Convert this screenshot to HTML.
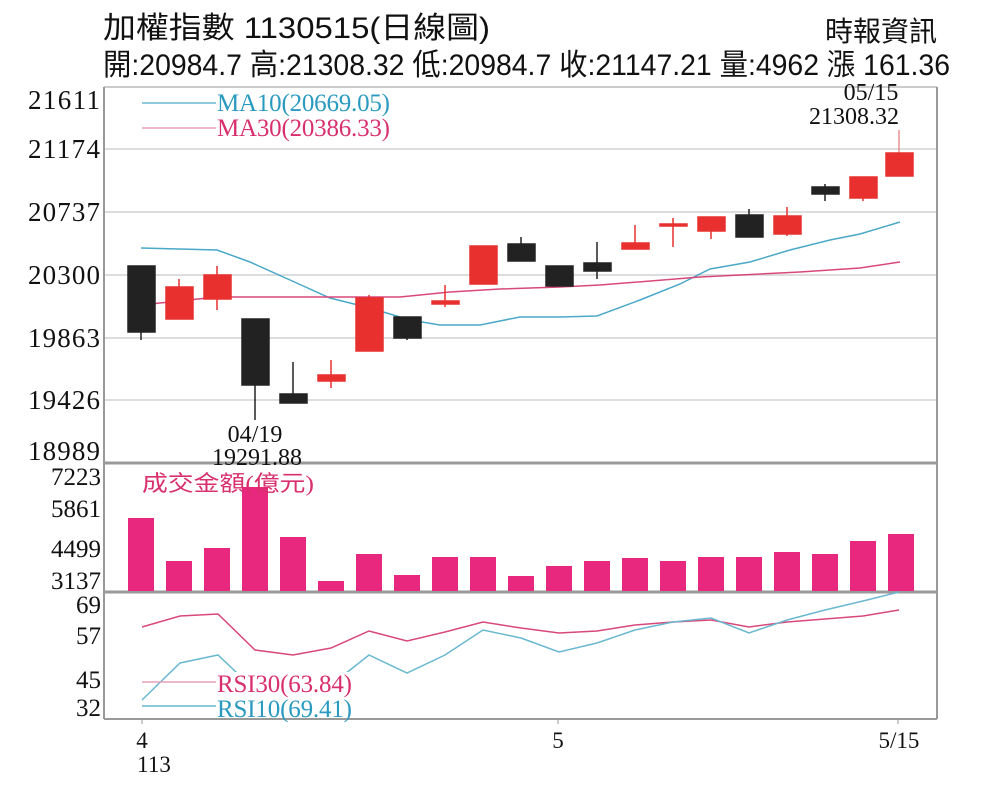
<!DOCTYPE html>
<html><head><meta charset="utf-8"><style>body{margin:0;background:#fff}svg{display:block}</style></head><body>
<svg width="1000" height="801" viewBox="0 0 1000 801" xmlns="http://www.w3.org/2000/svg" font-family="'Liberation Serif','Noto Serif CJK TC',serif">
<rect width="1000" height="801" fill="#fff"/>
<text x="103" y="38" font-size="30" textLength="387" lengthAdjust="spacingAndGlyphs" fill="#111" font-family="'Liberation Sans','Noto Sans CJK TC',sans-serif">加權指數 1130515(日線圖)</text>
<text x="937" y="41" font-size="28" text-anchor="end" fill="#111" font-family="'Liberation Sans','Noto Sans CJK TC',sans-serif">時報資訊</text>
<text x="103" y="75" font-size="30" textLength="847" lengthAdjust="spacingAndGlyphs" fill="#111" font-family="'Liberation Sans','Noto Sans CJK TC',sans-serif">開:20984.7 高:21308.32 低:20984.7 收:21147.21 量:4962 漲 161.36</text>
<g stroke="#ddd" stroke-width="2">
<line x1="104" y1="149" x2="937" y2="149"/><line x1="104" y1="212" x2="937" y2="212"/><line x1="104" y1="275" x2="937" y2="275"/><line x1="104" y1="338" x2="937" y2="338"/><line x1="104" y1="400" x2="937" y2="400"/>
</g>
<g stroke="#999" stroke-width="2" fill="none">
<line x1="104" y1="87" x2="937" y2="87" stroke="#ccc"/>
<line x1="104" y1="463" x2="937" y2="463" stroke-width="3"/>
<line x1="104" y1="592" x2="937" y2="592" stroke-width="3"/>
<line x1="104" y1="719" x2="937" y2="719" stroke-width="2"/>
<line x1="104" y1="87" x2="104" y2="719"/>
<line x1="937" y1="87" x2="937" y2="719"/>
</g>
<g stroke="#999" stroke-width="1">
<line x1="142" y1="719" x2="142" y2="724"/><line x1="558" y1="719" x2="558" y2="724"/><line x1="898" y1="719" x2="898" y2="724"/>
</g>
<g font-size="27" fill="#111" lengthAdjust="spacingAndGlyphs">
<text x="28" y="109" textLength="72">21611</text><text x="28" y="158" textLength="72">21174</text><text x="28" y="221" textLength="72">20737</text><text x="28" y="284" textLength="72">20300</text><text x="28" y="347" textLength="72">19863</text><text x="28" y="409" textLength="72">19426</text><text x="28" y="460" textLength="72">18989</text>
</g>
<g font-size="25" fill="#111" text-anchor="end">
<text x="101" y="485">7223</text><text x="101" y="517">5861</text><text x="101" y="557">4499</text><text x="101" y="589">3137</text>
<text x="101" y="613">69</text><text x="101" y="644">57</text><text x="101" y="688">45</text><text x="101" y="716">32</text>
</g>
<g font-size="23" fill="#111" text-anchor="middle">
<text x="142" y="748">4</text><text x="154" y="772">113</text><text x="558" y="748">5</text><text x="899" y="748">5/15</text>
</g>
<polyline fill="none" stroke="#4aa8c8" stroke-width="1.5" points="141,248 217,250 250,262 290,280 330,298 370,308 410,320 440,325 480,325 520,317 560,317 597,316 640,300 680,284 710,269 750,262 790,250 830,240 860,234 900,222"/>
<polyline fill="none" stroke="#d8487a" stroke-width="1.5" points="141,305 217,297 300,297 400,297 450,292 500,289 560,287 600,285 700,277 800,272 860,268 900,262"/>
<g stroke-width="1.5">
<g stroke="#222" fill="#222">
<line x1="141" y1="266" x2="141" y2="340"/><rect x="128" y="266" width="27" height="66"/>
<line x1="255" y1="319" x2="255" y2="420"/><rect x="242" y="319" width="27" height="66"/>
<line x1="293" y1="362" x2="293" y2="403"/><rect x="280" y="394" width="27" height="9"/>
<line x1="407" y1="317" x2="407" y2="340"/><rect x="394" y="317" width="27" height="21"/>
<line x1="521" y1="237" x2="521" y2="261"/><rect x="508" y="244" width="27" height="17"/>
<line x1="559" y1="266" x2="559" y2="286"/><rect x="546" y="266" width="27" height="20"/>
<line x1="597" y1="242" x2="597" y2="279"/><rect x="584" y="263" width="27" height="8"/>
<line x1="749" y1="209" x2="749" y2="237"/><rect x="736" y="215" width="27" height="22"/>
<line x1="825" y1="184" x2="825" y2="201"/><rect x="812" y="187" width="27" height="7"/>
</g>
<g stroke="#e8312f" fill="#e8312f">
<line x1="179" y1="279" x2="179" y2="319"/><rect x="166" y="287" width="27" height="32"/>
<line x1="217" y1="266" x2="217" y2="310"/><rect x="204" y="275" width="27" height="24"/>
<line x1="331" y1="360" x2="331" y2="388"/><rect x="318" y="375" width="27" height="6"/>
<line x1="369" y1="295" x2="369" y2="351"/><rect x="356" y="298" width="27" height="53"/>
<line x1="445" y1="285" x2="445" y2="307"/><rect x="432" y="301" width="27" height="3"/>
<rect x="470" y="246" width="27" height="38"/>
<line x1="635" y1="225" x2="635" y2="249"/><rect x="622" y="243" width="27" height="6"/>
<line x1="673" y1="218" x2="673" y2="247"/><rect x="660" y="224" width="27" height="2"/>
<line x1="711" y1="217" x2="711" y2="239"/><rect x="698" y="217" width="27" height="14"/>
<line x1="787" y1="207" x2="787" y2="236"/><rect x="774" y="216" width="27" height="18"/>
<line x1="863" y1="177" x2="863" y2="201"/><rect x="850" y="177" width="27" height="21"/>
<line x1="899" y1="130" x2="899" y2="153" stroke="#e89090"/><rect x="886" y="153" width="27" height="23"/>
</g>
</g>
<g fill="#e8287f">
<rect x="128" y="518" width="26" height="73"/><rect x="166" y="561" width="26" height="30"/><rect x="204" y="548" width="26" height="43"/><rect x="242" y="487" width="26" height="104"/><rect x="280" y="537" width="26" height="54"/><rect x="318" y="581" width="26" height="10"/><rect x="356" y="554" width="26" height="37"/><rect x="394" y="575" width="26" height="16"/><rect x="432" y="557" width="26" height="34"/><rect x="470" y="557" width="26" height="34"/><rect x="508" y="576" width="26" height="15"/><rect x="546" y="566" width="26" height="25"/><rect x="584" y="561" width="26" height="30"/><rect x="622" y="558" width="26" height="33"/><rect x="660" y="561" width="26" height="30"/><rect x="698" y="557" width="26" height="34"/><rect x="736" y="557" width="26" height="34"/><rect x="774" y="552" width="26" height="39"/><rect x="812" y="554" width="26" height="37"/><rect x="850" y="541" width="26" height="50"/><rect x="888" y="534" width="26" height="57"/>
</g>
<polyline fill="none" stroke="#d8487a" stroke-width="1.5" points="142,627 180,616 218,614 255,650 293,655 331,648 369,631 407,641 445,632 483,622 521,628 559,633 597,631 635,625 673,622 711,620 749,627 787,622 825,619 863,616 899,610"/>
<polyline fill="none" stroke="#6ab8d0" stroke-width="1.5" points="142,700 180,663 218,655 255,690 293,690 331,685 369,655 407,673 445,655 483,630 521,638 559,652 597,643 635,630 673,622 711,618 749,633 787,620 825,610 863,601 899,592"/>
<rect x="222" y="672" width="128" height="44" fill="#fff"/>
<line x1="142" y1="682" x2="216" y2="682" stroke="#e8a0b8" stroke-width="1.5"/>
<line x1="142" y1="706" x2="216" y2="706" stroke="#6ab8d0" stroke-width="1.5"/>
<g font-size="25" lengthAdjust="spacingAndGlyphs">
<text x="217" y="692" fill="#d8306e" textLength="135">RSI30(63.84)</text>
<text x="217" y="717" fill="#2a9ac0" textLength="135">RSI10(69.41)</text>
<text x="217" y="111" fill="#2a9ac0" textLength="173">MA10(20669.05)</text>
<text x="217" y="136" fill="#d8306e" textLength="173">MA30(20386.33)</text>
</g>
<line x1="142" y1="103" x2="216" y2="103" stroke="#6ab8d0" stroke-width="1.5"/>
<line x1="142" y1="128" x2="216" y2="128" stroke="#e8a0b8" stroke-width="1.5"/>
<text x="142" y="491" font-size="22" fill="#d8306e" textLength="172" lengthAdjust="spacingAndGlyphs" font-family="'Liberation Serif','Noto Sans CJK TC',sans-serif">成交金額(億元)</text>
<g font-size="24" fill="#111" text-anchor="middle">
<text x="255" y="442">04/19</text><text x="257" y="465">19291.88</text>
<text x="871" y="100">05/15</text><text x="854" y="124">21308.32</text>
</g>
</svg>
</body></html>
